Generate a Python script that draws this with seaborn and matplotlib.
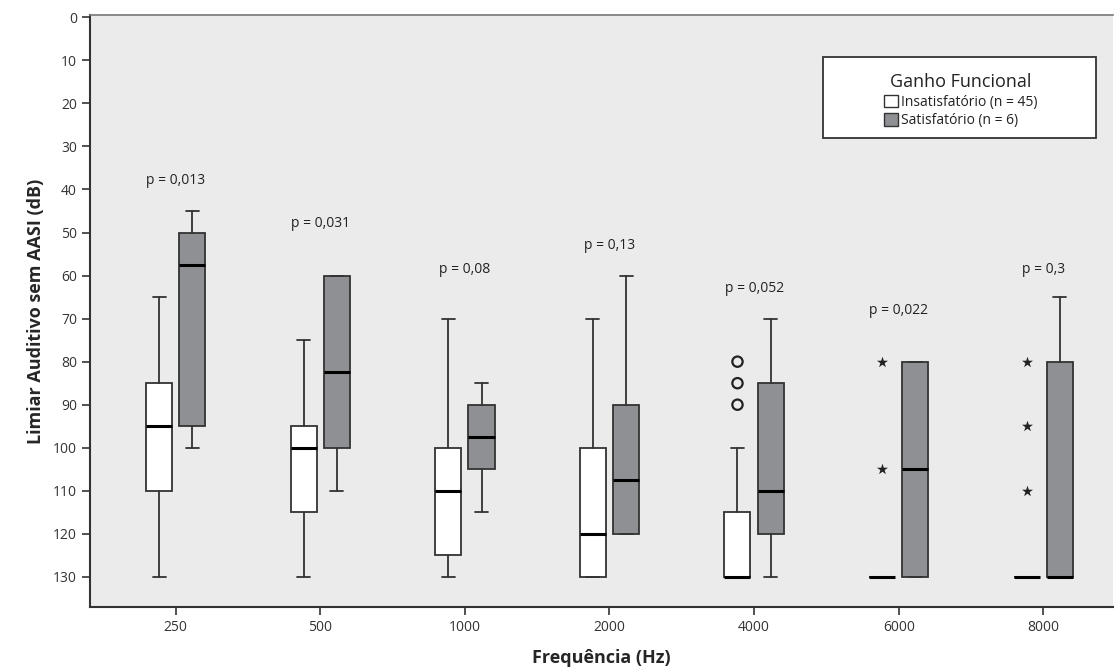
import numpy as np
import pandas as pd
import matplotlib
matplotlib.use("Agg")
import matplotlib.pyplot as plt
import seaborn as sns
from matplotlib.patches import Patch, Rectangle

# Dados (limiar em dB)
frequencias = ["250", "500", "1000", "2000", "4000", "6000", "8000"]
p_valores = ["p = 0,013", "p = 0,031", "p = 0,08", "p = 0,13", "p = 0,052", "p = 0,022", "p = 0,3"]
p_altura = [38, 48, 58.5, 53, 63, 68, 58.5]

# Insatisfatório (n = 45): bigode sup., Q1, mediana, Q3, bigode inf.
ins_wlo = [65, 75, 70, 70, 100, 130, 130]
ins_q1 = [85, 95, 100, 100, 115, 130, 130]
ins_med = [95, 100, 110, 120, 130, 130, 130]
ins_q3 = [110, 115, 125, 130, 130, 130, 130]
ins_whi = [130, 130, 130, 130, 130, 130, 130]
ins_circ = [[], [], [], [], [80, 85, 90], [], []]
ins_estrela = [[], [], [], [], [], [80, 105], [80, 95, 110]]

# Satisfatório (n = 6)
sat_wlo = [45, 60, 85, 60, 70, 80, 65]
sat_q1 = [50, 60, 90, 90, 85, 80, 80]
sat_med = [57.5, 82.5, 97.5, 107.5, 110, 105, 130]
sat_q3 = [95, 100, 105, 120, 120, 130, 130]
sat_whi = [100, 110, 115, 120, 130, 130, 130]


def stats(wlo, q1, med, q3, whi):
    return [dict(whislo=a, q1=b, med=c, q3=d, whishi=e, fliers=[])
            for a, b, c, d, e in zip(wlo, q1, med, q3, whi)]


sns.set_theme(style="white")
plt.rcParams['font.family'] = ['Open Sans', 'DejaVu Sans']

fig = plt.figure(figsize=(11.15, 6.70), dpi=100)
ax = fig.add_axes([0.081, 0.094, 0.917, 0.884])
ax.set_facecolor("#ebebeb")

pos = np.arange(len(frequencias))
larg = 0.18
desl = 0.115
cinza = "#8e9094"
linha = dict(color="#333333", linewidth=1.3)

ax.bxp(stats(ins_wlo, ins_q1, ins_med, ins_q3, ins_whi), positions=pos - desl,
       widths=larg, patch_artist=True, showfliers=False,
       boxprops=dict(facecolor="white", edgecolor="#333333", linewidth=1.3),
       medianprops=dict(color="black", linewidth=2.2),
       whiskerprops=linha, capprops=linha, capwidths=larg * 0.5)
ax.bxp(stats(sat_wlo, sat_q1, sat_med, sat_q3, sat_whi), positions=pos + desl,
       widths=larg, patch_artist=True, showfliers=False,
       boxprops=dict(facecolor=cinza, edgecolor="#333333", linewidth=1.3),
       medianprops=dict(color="black", linewidth=2.2),
       whiskerprops=linha, capprops=linha, capwidths=larg * 0.5)

# Valores atípicos
circ = pd.DataFrame([(i - desl, v) for i, vs in enumerate(ins_circ) for v in vs], columns=["x", "y"])
estr = pd.DataFrame([(i - desl, v) for i, vs in enumerate(ins_estrela) for v in vs], columns=["x", "y"])
sns.scatterplot(data=circ, x="x", y="y", ax=ax, marker="o", s=55,
                facecolor="none", edgecolor="#222222", linewidth=1.6, zorder=5)
sns.scatterplot(data=estr, x="x", y="y", ax=ax, marker="*", s=70,
                color="#222222", linewidth=0, zorder=5)

for i, (txt, h) in enumerate(zip(p_valores, p_altura)):
    ax.text(i, h, txt, ha="center", va="center", fontsize=10, color="#222222")

ax.set_xlim(-0.59, 6.48)
ax.set_ylim(137, -0.6)
ax.set_yticks(np.arange(0, 131, 10))
ax.set_xticks(pos)
ax.set_xticklabels(frequencias)
ax.tick_params(axis="both", which="both", direction="out", length=6, width=1.2,
               colors="#333333", labelsize=10, left=True, bottom=True)
for s in ["left", "bottom"]:
    ax.spines[s].set_color("#333333")
    ax.spines[s].set_linewidth(1.5)
ax.spines["top"].set_color("#777777")
ax.spines["top"].set_linewidth(1.2)
ax.spines["right"].set_visible(False)

ax.set_xlabel("Frequência (Hz)", fontsize=13, fontweight="bold", labelpad=10)
ax.set_ylabel("Limiar Auditivo sem AASI (dB)", fontsize=13, fontweight="bold", labelpad=6)

# Caixa da legenda
ax.add_patch(Rectangle((0.7165, 0.792), 0.267, 0.137, transform=ax.transAxes,
                       facecolor="white", edgecolor="#333333", linewidth=1.3, zorder=6))
handles = [Patch(facecolor="white", edgecolor="#333333", label="Insatisfatório (n = 45)"),
           Patch(facecolor=cinza, edgecolor="#333333", label="Satisfatório (n = 6)")]
leg = ax.legend(handles=handles, title="Ganho Funcional", loc="center",
                bbox_to_anchor=(0.8514, 0.855), fontsize=10, title_fontsize=13,
                frameon=False, handlelength=1.0, handleheight=1.0,
                handletextpad=0.2, labelspacing=0.25, borderpad=0.2)
leg.set_zorder(7)
leg.get_title().set_color("#222222")
for t in leg.get_texts():
    t.set_color("#222222")

fig.savefig("out.png", dpi=100)
